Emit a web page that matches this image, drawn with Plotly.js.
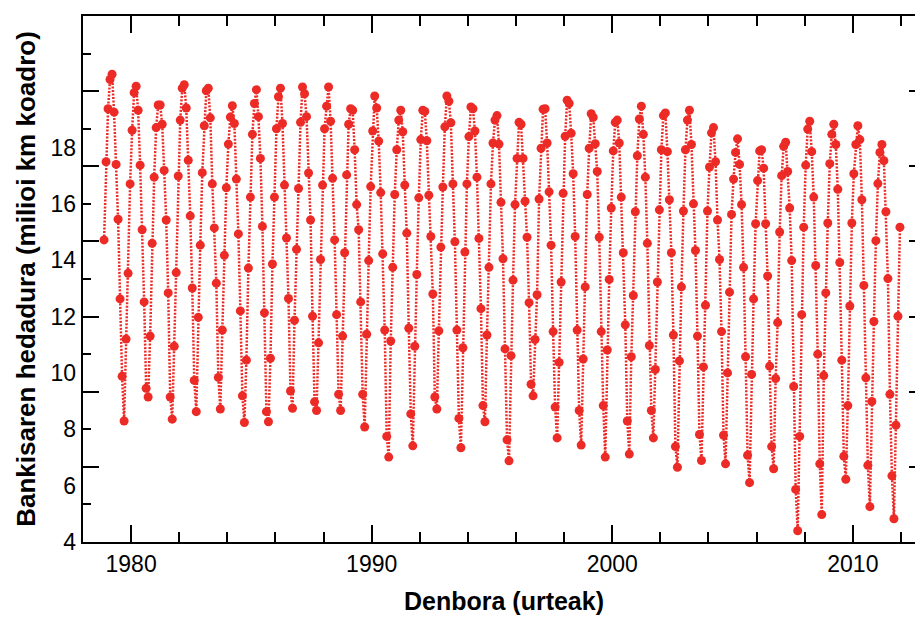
<!DOCTYPE html>
<html>
<head>
<meta charset="utf-8">
<script src="https://cdn.plot.ly/plotly-3.0.1.min.js"></script>
<style>
  html, body { margin: 0; padding: 0; overflow: hidden; background: #fff; }
  #chart { width: 940px; height: 617px; }
</style>
</head>
<body>
<div id="chart"></div>
<script>
// Monthly sea-ice extent (million km²), series starts November 1978
const startYear = 1978;
const startMonth = 11;
const e1978 = [12.04, 14.12];
const e1979 = [15.53, 16.31, 16.45, 15.44, 14.05, 12.59, 10.47, 8.41, 7.22, 9.40, 11.15, 13.53];
const e1980 = [14.96, 15.96, 16.13, 15.49, 14.03, 12.31, 10.39, 8.09, 7.86, 9.48, 11.95, 13.71];
const e1981 = [15.03, 15.63, 15.63, 15.12, 13.89, 12.57, 10.63, 7.86, 7.27, 9.21, 11.17, 13.74];
const e1982 = [15.23, 16.08, 16.17, 15.55, 14.16, 12.68, 10.76, 8.30, 7.47, 9.98, 11.90, 13.83];
const e1983 = [15.08, 16.01, 16.08, 15.29, 13.53, 12.36, 10.89, 8.38, 7.54, 9.64, 11.63, 13.43];
const e1984 = [14.59, 15.31, 15.61, 15.14, 13.66, 12.20, 10.15, 7.89, 7.18, 8.84, 11.29, 13.18];
const e1985 = [14.85, 15.67, 16.04, 15.32, 14.21, 12.40, 10.10, 7.47, 7.20, 8.89, 11.40, 13.18];
const e1986 = [15.00, 15.85, 16.08, 15.14, 13.50, 12.09, 10.48, 8.02, 7.56, 9.90, 11.79, 13.41];
const e1987 = [15.17, 16.11, 15.93, 15.32, 13.82, 12.57, 10.01, 7.73, 7.50, 9.30, 11.52, 13.50];
const e1988 = [15.00, 15.60, 16.11, 15.20, 13.68, 12.04, 10.05, 7.93, 7.50, 9.48, 11.70, 13.77];
const e1989 = [15.12, 15.53, 15.49, 14.44, 12.98, 12.31, 10.39, 7.93, 7.06, 9.53, 11.49, 13.46];
const e1990 = [14.94, 15.87, 15.55, 14.67, 13.30, 11.67, 9.64, 6.81, 6.26, 9.35, 11.31, 13.25];
const e1991 = [14.44, 15.23, 15.49, 14.92, 13.50, 12.22, 9.69, 7.41, 6.56, 9.21, 11.12, 13.16];
const e1992 = [14.71, 15.49, 15.46, 14.68, 13.23, 12.13, 10.60, 7.86, 7.54, 9.62, 11.85, 13.45];
const e1993 = [15.05, 15.87, 15.73, 15.16, 13.53, 11.99, 9.64, 7.29, 6.51, 9.17, 11.72, 13.53];
const e1994 = [14.79, 15.58, 15.53, 14.94, 13.71, 12.08, 10.21, 7.63, 7.20, 9.51, 11.31, 13.53];
const e1995 = [14.62, 15.23, 15.35, 14.59, 13.04, 11.54, 9.14, 6.72, 6.16, 8.96, 10.97, 12.98];
const e1996 = [14.21, 15.17, 15.12, 14.21, 13.07, 12.11, 10.37, 8.20, 7.89, 9.39, 10.58, 13.13];
const e1997 = [14.48, 15.52, 15.53, 14.62, 13.32, 11.90, 9.60, 7.59, 6.77, 8.78, 10.92, 13.28];
const e1998 = [14.80, 15.76, 15.67, 14.88, 13.80, 12.13, 9.64, 7.50, 6.58, 8.87, 10.79, 13.25];
const e1999 = [14.48, 15.40, 15.30, 14.60, 13.86, 12.11, 9.60, 7.63, 6.26, 9.11, 10.99, 12.89];
const e2000 = [14.41, 15.17, 15.23, 14.62, 13.18, 11.70, 9.78, 7.22, 6.34, 8.93, 10.56, 12.79];
const e2001 = [14.28, 15.26, 15.60, 14.85, 13.71, 11.95, 9.23, 7.50, 6.77, 8.59, 10.92, 12.84];
const e2002 = [14.44, 15.35, 15.42, 14.39, 13.11, 11.70, 9.51, 6.54, 5.99, 8.82, 10.79, 12.81];
const e2003 = [14.44, 15.23, 15.49, 14.58, 13.00, 11.76, 9.48, 6.86, 6.17, 8.66, 10.30, 12.81];
const e2004 = [13.98, 14.89, 15.03, 14.12, 12.57, 11.52, 9.60, 6.84, 6.08, 8.50, 10.65, 12.72];
const e2005 = [13.66, 14.37, 14.73, 14.05, 12.98, 11.31, 8.93, 6.31, 5.58, 8.46, 10.47, 12.47];
const e2006 = [13.62, 14.41, 14.44, 13.95, 12.47, 11.08, 8.68, 6.54, 5.95, 8.35, 9.84, 12.25];
const e2007 = [13.75, 14.53, 14.64, 13.86, 12.89, 11.49, 8.14, 5.40, 4.30, 6.81, 10.05, 12.38];
const e2008 = [14.03, 14.99, 15.20, 14.39, 13.18, 11.36, 9.00, 6.08, 4.73, 8.43, 10.63, 12.49];
const e2009 = [14.07, 14.85, 15.12, 14.58, 13.39, 11.44, 8.84, 6.28, 5.67, 7.63, 10.28, 12.49];
const e2010 = [13.80, 14.58, 15.08, 14.71, 13.11, 10.83, 8.37, 6.04, 4.94, 7.74, 9.87, 12.02];
const e2011 = [13.54, 14.37, 14.58, 14.15, 12.79, 11.01, 7.93, 5.76, 4.62, 7.11, 10.01, 12.38];

const yearly = [e1978, e1979, e1980, e1981, e1982, e1983, e1984, e1985, e1986, e1987,
  e1988, e1989, e1990, e1991, e1992, e1993, e1994, e1995, e1996, e1997, e1998, e1999,
  e2000, e2001, e2002, e2003, e2004, e2005, e2006, e2007, e2008, e2009, e2010, e2011];

const xTickVals = [1980, 1990, 2000, 2010];
const xTickText = ['1980', '1990', '2000', '2010'];
const yLabelVals = [4, 6, 8, 10, 12, 14, 16, 18];
const yLabelText = ['4', '6', '8', '10', '12', '14', '16', '18'];

const xs = [], ys = [];
yearly.forEach((arr, i) => {
  const yr = startYear + i;
  const m0 = (i === 0) ? startMonth : 1;
  arr.forEach((v, j) => {
    const m = m0 + j;
    xs.push(yr + (m - 0.5) / 12);
    ys.push(v);
  });
});

const red = 'rgb(236,42,38)';
const font = 'Liberation Sans, Arial, Helvetica, sans-serif';

const data = [
  {
    x: xs, y: ys, type: 'scatter', mode: 'lines+markers',
    line: { color: red, width: 2.5, dash: '2px,1.5px' },
    marker: { color: red, size: 9 },
    hoverinfo: 'x+y', showlegend: false
  },
  {
    // empty trace so the label axis (yaxis2) is drawn
    x: [], y: [], type: 'scatter', mode: 'markers', yaxis: 'y2',
    hoverinfo: 'skip', showlegend: false
  }
];

const layout = {
  width: 940, height: 617,
  margin: { l: 83, r: 15, t: 16, b: 75 },
  paper_bgcolor: '#fff', plot_bgcolor: '#fff',
  showlegend: false,
  font: { family: font, color: '#000' },
  xaxis: {
    range: [1978, 2013], showgrid: false, zeroline: false,
    showline: true, linecolor: '#000', linewidth: 2, mirror: 'ticks',
    tickmode: 'array', tickvals: xTickVals, ticktext: xTickText,
    ticks: 'inside', ticklen: 17, tickwidth: 2, tickcolor: '#000',
    tickfont: { size: 23, family: font, color: '#000' },
    minor: { tickmode: 'linear', tick0: 1978, dtick: 2, ticks: 'inside', ticklen: 10, tickwidth: 2, tickcolor: '#000', showgrid: false },
    title: { text: '<b>Denbora (urteak)</b>', font: { size: 25, family: font, color: '#000' }, standoff: 17 }
  },
  yaxis: {
    range: [4, 18], showgrid: false, zeroline: false,
    showline: true, linecolor: '#000', linewidth: 2, mirror: 'ticks',
    tickmode: 'linear', tick0: 4, dtick: 2, showticklabels: false,
    ticks: 'inside', ticklen: 16, tickwidth: 2, tickcolor: '#000',
    minor: { tickmode: 'linear', tick0: 4, dtick: 1, ticks: 'inside', ticklen: 8, tickwidth: 2, tickcolor: '#000', showgrid: false }
  },
  yaxis2: {
    overlaying: 'y', anchor: 'x', side: 'left',
    range: [4, 4 + 14 * 2 / 1.5], showgrid: false, zeroline: false, showline: false,
    tickmode: 'array', tickvals: yLabelVals, ticktext: yLabelText,
    ticks: '', ticklabelstandoff: 6,
    tickfont: { size: 23, family: font, color: '#000' },
    title: { text: '<b>Bankisaren hedadura (milioi km koadro)</b>', font: { size: 26, family: font, color: '#000' }, standoff: 7 }
  }
};

Plotly.newPlot('chart', data, layout, { displayModeBar: false, staticPlot: true });
</script>
</body>
</html>
